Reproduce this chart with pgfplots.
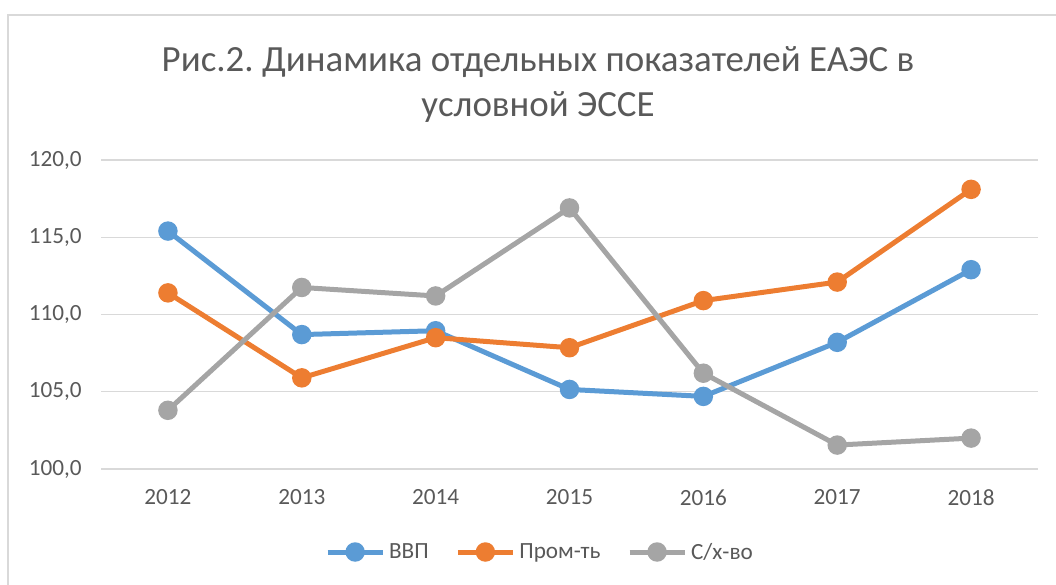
\documentclass[border=0pt]{standalone}
\usepackage{pgfplots}
\pgfplotsset{compat=1.18}
\usepackage{fontspec}
\setmainfont{Carlito}
\frenchspacing
\definecolor{cBlue}{HTML}{5B9BD5}
\definecolor{cOrange}{HTML}{ED7D31}
\definecolor{cGray}{HTML}{A5A5A5}
\definecolor{cText}{HTML}{595959}
\definecolor{cGrid}{HTML}{D9D9D9}
\begin{document}
\begin{tikzpicture}[x=0.75pt,y=-0.75pt]
\useasboundingbox (0,0) rectangle (1056,585);
\draw[cGrid,line width=1.5pt] (8,590) -- (8,15) -- (1060,15);
\node[anchor=base,text=cText,font=\fontsize{27.7}{32}\selectfont\frenchspacing] at (538,71) {Рис.2. Динамика отдельных показателей ЕАЭС в};
\node[anchor=base,text=cText,font=\fontsize{27.7}{32}\selectfont] at (538,117) {условной ЭССЕ};
\begin{axis}[
  at={(75.75pt,-351.75pt)}, anchor=south west,
  scale only axis, width=702.75pt, height=231.75pt,
  xmin=-0.5, xmax=6.5, ymin=100, ymax=120,
  xtick={0,...,6}, xticklabels={2012,2013,2014,2015,2016,2017,2018},
  ytick={100,105,110,115,120},
  ymajorgrids, grid style={cGrid,line width=1.1pt},
  axis line style={draw=none},
  major tick length=0pt,
  tick label style={text=cText,font=\fontsize{17.4}{20}\selectfont},
  xticklabel style={yshift=-12pt},
  yticklabel style={xshift=-11pt},
  /pgf/number format/assume math mode=true,
  yticklabel={\pgfmathprintnumber[fixed,fixed zerofill,precision=1,use comma]{\tick}},
  legend columns=3,
  legend style={draw=none,fill=none,at={(0.4696,-0.2686)},anchor=center,
    font=\fontsize{17.4}{20}\selectfont,text=cText,
    /tikz/every even column/.append style={column sep=17pt},
    nodes={inner xsep=3pt}},
  legend image code/.code={\draw[mark repeat=2,mark phase=2,#1] plot coordinates {(0pt,0pt)(20.6pt,0pt)(41.2pt,0pt)};},
  every axis plot/.append style={line width=3.75pt, mark=*, mark size=5.4pt, mark options={line width=0pt}},
]
\addplot[cBlue, mark options={fill=cBlue,draw=cBlue}] coordinates {(0,115.4)(1,108.7)(2,108.95)(3,105.15)(4,104.7)(5,108.2)(6,112.9)};
\addlegendentry{ВВП}
\addplot[cOrange, mark options={fill=cOrange,draw=cOrange}] coordinates {(0,111.4)(1,105.9)(2,108.5)(3,107.85)(4,110.9)(5,112.1)(6,118.1)};
\addlegendentry{Пром-ть}
\addplot[cGray, mark options={fill=cGray,draw=cGray}] coordinates {(0,103.8)(1,111.75)(2,111.2)(3,116.9)(4,106.2)(5,101.55)(6,102.0)};
\addlegendentry{С/х-во}
\end{axis}
\end{tikzpicture}
\end{document}
